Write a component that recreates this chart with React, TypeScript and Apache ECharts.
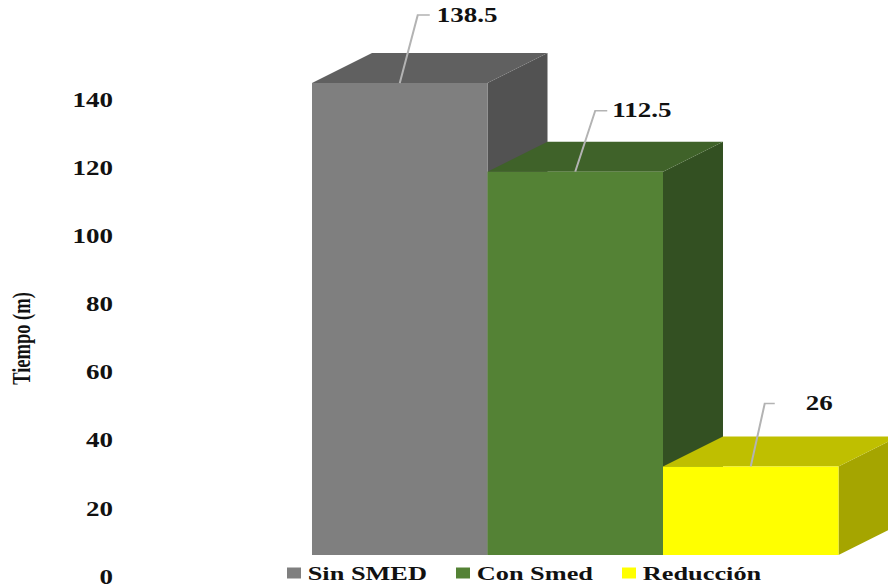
import React, { useEffect, useRef } from "react";
import * as echarts from "echarts";

const categories = ["Sin SMED", "Con Smed", "Reducción"];
const minutes = [138.5, 112.5, 26];
const yTicks = { min: 0, max: 140, interval: 20 };

const frontColors = ["#7f7f7f", "#548235", "#ffff00"];
const topColors = ["#606060", "#3f6229", "#bfbf00"];
const sideColors = ["#525252", "#335022", "#a5a500"];

// Leader line shape for each label, in horizontally stretched page pixels.
const leaders = [
  { elbowX: 18, elbowY: -68, tail: 12, textGap: 7 },
  { elbowX: 20, elbowY: -61, tail: 12, textGap: 5 },
  { elbowX: 14, elbowY: -63, tail: 10, textGap: 31 },
];

// The whole drawing is widened with a CSS transform, giving its wide serif look.
const STRETCH = 1.35;
const WIDTH = 888;
const HEIGHT = 587;
const FONT = "'Liberation Serif', serif";
const px = (v: number) => v / STRETCH;

// Oblique depth of each box, and the lift of the boxes above the axis baseline.
const DEPTH_X = px(60);
const DEPTH_Y = 30;
const LIFT = 22;

function renderBox(params: any, api: any) {
  const index = api.value(0);
  const value = api.value(1);
  const [cx, top0] = api.coord([index, value]);
  const [, base0] = api.coord([index, 0]);
  const top = top0 - LIFT;
  const base = base0 - LIFT;
  const w = api.size([1, 0])[0];
  const l = cx - w / 2;
  const r = cx + w / 2;
  const leader = leaders[index];
  const elbowX = cx + px(leader.elbowX);
  const elbowY = top + leader.elbowY;
  const tailX = elbowX + px(leader.tail);
  return {
    type: "group",
    children: [
      {
        type: "polygon",
        shape: { points: [[r, top], [r + DEPTH_X, top - DEPTH_Y], [r + DEPTH_X, base - DEPTH_Y], [r, base]] },
        style: { fill: sideColors[index] },
      },
      {
        type: "polygon",
        shape: { points: [[l, top], [l + DEPTH_X, top - DEPTH_Y], [r + DEPTH_X, top - DEPTH_Y], [r, top]] },
        style: { fill: topColors[index] },
      },
      {
        type: "rect",
        shape: { x: l, y: top, width: w, height: base - top },
        style: { fill: frontColors[index] },
      },
      {
        type: "polyline",
        shape: { points: [[cx, top], [elbowX, elbowY], [tailX, elbowY]] },
        style: { fill: "none", stroke: "#b3b3b3", lineWidth: 1.5 },
      },
      {
        type: "text",
        x: tailX + px(leader.textGap),
        y: elbowY,
        style: {
          text: String(value),
          fill: "#111111",
          font: `bold 20px ${FONT}`,
          textAlign: "left",
          textVerticalAlign: "middle",
        },
      },
    ],
  };
}

export default function App() {
  const ref = useRef<HTMLDivElement>(null);

  useEffect(() => {
    const chart = echarts.init(ref.current!, undefined, { renderer: "svg" });
    chart.setOption({
      animation: false,
      grid: { left: px(312), top: 100, width: px(526.5), height: 477, outerBoundsMode: "none" },
      legend: {
        left: px(287),
        top: 563,
        padding: 0,
        icon: "rect",
        itemWidth: px(14),
        itemHeight: 11,
        itemGap: px(29),
        data: categories,
        textStyle: { fontFamily: FONT, fontWeight: "bold", fontSize: 19.5, color: "#111111" },
      },
      xAxis: { type: "category", data: categories, show: false },
      yAxis: {
        type: "value",
        min: yTicks.min,
        max: yTicks.max,
        interval: yTicks.interval,
        name: "Tiempo (m)",
        nameLocation: "middle",
        nameGap: px(278),
        nameTextStyle: { fontFamily: FONT, fontWeight: "bold", fontSize: 18.5, color: "#111111" },
        axisLine: { show: false },
        axisTick: { show: false },
        splitLine: { show: false },
        axisLabel: {
          margin: px(199),
          fontFamily: FONT,
          fontWeight: "bold",
          fontSize: 20,
          color: "#111111",
          padding: [2, 0, 0, 0],
        },
      },
      series: categories.map((name, i) => ({
        type: "custom",
        name,
        clip: false,
        itemStyle: { color: frontColors[i] },
        encode: { x: 0, y: 1 },
        data: [[i, minutes[i]]],
        renderItem: renderBox,
      })),
    });
    return () => chart.dispose();
  }, []);

  return (
    <div
      ref={ref}
      style={{
        position: "absolute",
        left: 0,
        top: 0,
        width: WIDTH / STRETCH,
        height: HEIGHT,
        transform: `scaleX(${STRETCH})`,
        transformOrigin: "0 0",
      }}
    />
  );
}
